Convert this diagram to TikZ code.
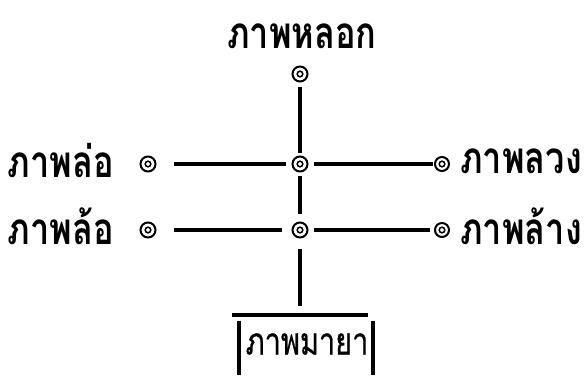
\documentclass[tikz,border=0pt]{standalone}
\usepackage{fontspec}
\newfontfamily\thaifont[Script=Thai,FakeStretch=0.78]{Loma}
\newfontfamily\thaibox[Script=Thai,FakeStretch=0.76,FakeBold=0.6]{Loma}
\begin{document}
\begin{tikzpicture}[x=1pt,y=-1pt,
  ring/.style={circle,draw,line width=2pt,minimum size=15pt,inner sep=0pt,
    path picture={\draw[line width=1.5pt] (path picture bounding box.center) circle (2.8pt);}},
  lbl/.style={font=\thaifont\bfseries\fontsize{44}{50}\selectfont,inner sep=0pt},
  conn/.style={line width=3.4pt}]
\useasboundingbox (0,0) rectangle (585,375);
% labels
\node[lbl] (top) at (302,36) {ภาพหลอก};
\node[lbl] (l1) at (61,161) {ภาพล่อ};
\node[lbl] (l2) at (61,226) {ภาพล้อ};
\node[lbl] (r1) at (521,161) {ภาพลวง};
\node[lbl] (r2) at (521,226) {ภาพล้าง};
\node[lbl,font=\thaibox\fontsize{38}{44}\selectfont] (mb) at (307,344) {ภาพมายา};
% rings
\node[ring] (ct) at (300,74) {};
\node[ring] (cm) at (300,164) {};
\node[ring] (cb) at (300,230) {};
\node[ring] (cl1) at (148,164) {};
\node[ring] (cl2) at (148,230) {};
\node[ring,minimum size=14pt] (cr1) at (442,164) {};
\node[ring,minimum size=14pt] (cr2) at (442,230) {};
% box coordinates
\coordinate (bt) at (300,306);
\coordinate (btl) at (232,315);
\coordinate (btr) at (368,315);
\coordinate (bl1) at (239,321);
\coordinate (bl2) at (239,375);
\coordinate (br1) at (373,321);
\coordinate (br2) at (373,375);
% connectors
\draw[conn,shorten <=4pt,shorten >=3pt] (ct) -- (cm);
\draw[conn,shorten <=3pt,shorten >=8pt] (cm) -- (cb);
\draw[conn,shorten <=10pt] (cb) -- (bt);
\draw[conn,shorten <=17pt,shorten >=6pt] (cl1) -- (cm);
\draw[conn,shorten <=17pt,shorten >=10pt] (cl2) -- (cb);
\draw[conn,shorten <=5pt,shorten >=1pt] (cm) -- (cr1);
\draw[conn,shorten <=5pt,shorten >=4pt] (cb) -- (cr2);
\draw[conn] (btl) -- (btr);
\draw[conn] (bl1) -- (bl2);
\draw[conn] (br1) -- (br2);
\end{tikzpicture}
\end{document}
